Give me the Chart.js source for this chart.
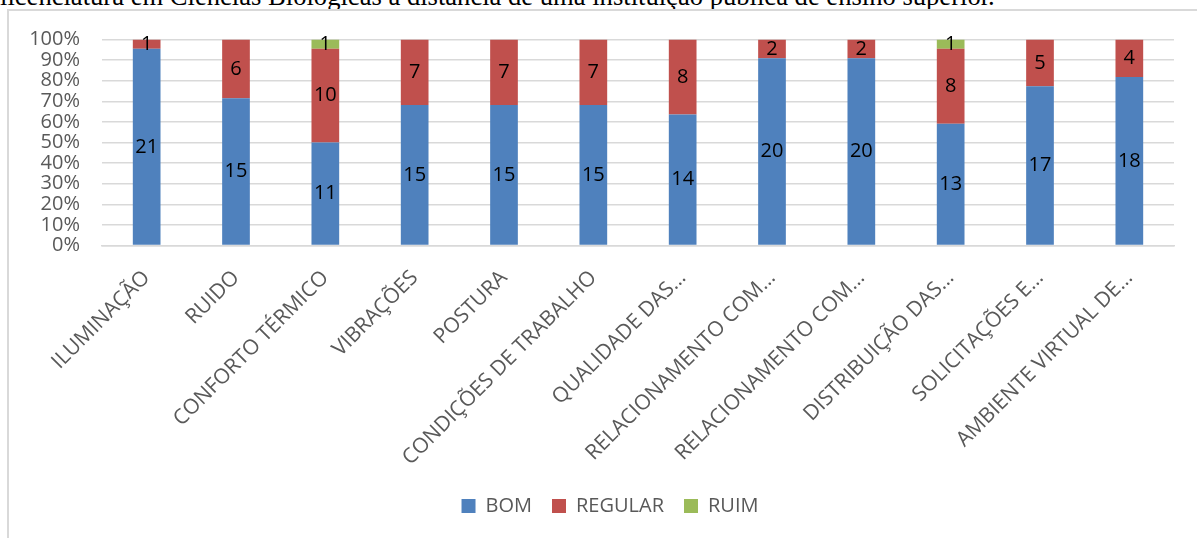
<!DOCTYPE html>
<html>
<head>
<meta charset="utf-8">
<script src="https://cdn.jsdelivr.net/npm/chart.js@4/dist/chart.umd.min.js"></script>
<style>
  html, body { margin: 0; padding: 0; background: #fff; overflow: hidden; }
  body { width: 1197px; height: 538px; position: relative; }
  #caption {
    position: absolute; left: 0; top: -17px; white-space: nowrap;
    font-family: "Liberation Serif", "Times New Roman", serif;
    font-size: 26.6px; line-height: 26px; color: #000;
  }
  #frame {
    position: absolute; left: 7px; top: 9px; width: 1200px; height: 540px;
    border-left: 2px solid #d9d9d9; border-top: 2px solid #d9d9d9;
  }
  #wrap { position: absolute; left: 10px; top: 12px; width: 1187px; height: 526px; }
</style>
</head>
<body>
<div id="caption">licenciatura em Ciências Biológicas a distância de uma instituição pública de ensino superior.</div>
<div id="frame"></div>
<div id="wrap"><canvas id="chart"></canvas></div>
<script>
// categorias e contagens por avaliação
const categories = [
    "ILUMINAÇÃO", "RUIDO", "CONFORTO TÉRMICO", "VIBRAÇÕES", "POSTURA",
    "CONDIÇÕES DE TRABALHO", "QUALIDADE DAS…", "RELACIONAMENTO COM…",
    "RELACIONAMENTO COM…", "DISTRIBUIÇÃO DAS…", "SOLICITAÇÕES E…", "AMBIENTE VIRTUAL DE…"
];
const bom     = [21, 15, 11, 15, 15, 15, 14, 20, 20, 13, 17, 18];
const regular = [1, 6, 10, 7, 7, 7, 8, 2, 2, 8, 5, 4];
const ruim    = [0, 0, 1, 0, 0, 0, 0, 0, 0, 1, 0, 0];
const yTicks  = [0, 10, 20, 30, 40, 50, 60, 70, 80, 90, 100];

const counts = [bom, regular, ruim];
const totals = categories.map((_, i) => bom[i] + regular[i] + ruim[i]);
const pct = arr => arr.map((v, i) => v / totals[i] * 100);

const labelColor = "#595959";
const font = { family: "'Open Sans', sans-serif", size: 20 };

// rótulos centrados em cada segmento
const segmentLabels = {
    id: "segmentLabels",
    afterDatasetsDraw(chart) {
        const ctx = chart.ctx;
        ctx.save();
        ctx.font = "20px 'Open Sans', sans-serif";
        ctx.fillStyle = "#000";
        ctx.textAlign = "center";
        ctx.textBaseline = "middle";
        chart.data.datasets.forEach((ds, di) => {
            chart.getDatasetMeta(di).data.forEach((bar, j) => {
                const v = counts[di][j];
                if (!v) return;
                ctx.fillText(String(v), bar.x, (bar.y + bar.base) / 2);
            });
        });
        ctx.restore();
    }
};

// legenda um pouco deslocada para a direita, como no original
const legendShift = {
    id: "legendShift",
    afterLayout(chart) {
        if (!chart.legend) return;
        chart.legend.left += 12;
        chart.legend.right += 12;
    }
};

new Chart(document.getElementById("chart"), {
    type: "bar",
    data: {
        labels: categories,
        datasets: [
            { label: "BOM", data: pct(bom), backgroundColor: "#4f81bd" },
            { label: "REGULAR", data: pct(regular), backgroundColor: "#c0504d" },
            { label: "RUIM", data: pct(ruim), backgroundColor: "#9bbb59" }
        ]
    },
    options: {
        responsive: true,
        maintainAspectRatio: false,
        animation: false,
        layout: { padding: { left: 12, right: 23, top: 27.5, bottom: 12 } },
        datasets: { bar: { categoryPercentage: 1, barPercentage: 0.31 } },
        plugins: {
            legend: {
                position: "bottom",
                labels: { font, color: labelColor, boxWidth: 14, boxHeight: 14, padding: 20 }
            },
            tooltip: { enabled: false }
        },
        scales: {
            x: {
                stacked: true,
                grid: { display: false, drawTicks: false },
                border: { color: "#d9d9d9", width: 1.5 },
                ticks: { font: { ...font, size: 21 }, color: labelColor, minRotation: 45, maxRotation: 45, autoSkip: false, padding: 20 },
                afterFit(scale) { scale.height = 230.5; }
            },
            y: {
                stacked: true,
                min: 0,
                max: 100,
                afterBuildTicks(scale) { scale.ticks = yTicks.map(v => ({ value: v })); },
                grid: { color: "#d9d9d9", lineWidth: 1.5, drawTicks: false },
                border: { display: false },
                ticks: {
                    font: { ...font, lineHeight: 0.5 },
                    color: labelColor,
                    padding: 22,
                    autoSkip: false,
                    callback: v => v + "%"
                },
                afterFit(scale) { scale.width = 80; }
            }
        }
    },
    plugins: [segmentLabels, legendShift]
});
</script>
</body>
</html>
